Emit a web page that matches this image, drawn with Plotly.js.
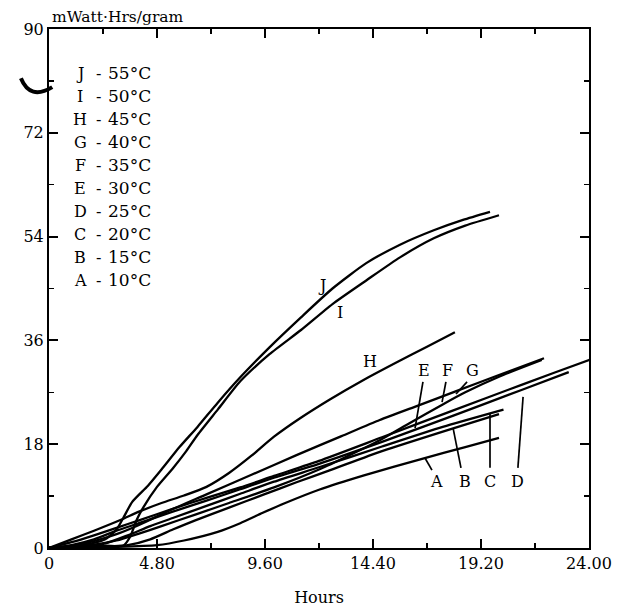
<!DOCTYPE html>
<html>
<head>
<meta charset="utf-8">
<script src="https://cdn.plot.ly/plotly-3.0.1.min.js"></script>
<style>html,body{margin:0;padding:0;background:#fff;}#chart{width:623px;height:609px;}</style>
</head>
<body>
<div id="chart"></div>
<script>
// ---- data (hours, mWatt·Hrs/gram) ----
const seriesNames = ["J", "I", "H", "G", "F", "E", "D", "C", "B", "A"];
const legendTemps = ["55°C", "50°C", "45°C", "40°C", "35°C", "30°C", "25°C", "20°C", "15°C", "10°C"];

const hoursJ = [0, 1.5, 2.5, 3.0, 3.3, 3.7, 4.4, 5.0, 5.8, 6.6, 7.5, 8.5, 9.8, 11.2, 12.6, 14.1, 15.6, 17.1, 18.4, 19.6];
const valuesJ = [0, 0.5, 1.5, 3.2, 5.2, 8.0, 10.8, 13.6, 17.5, 21.0, 25.2, 29.6, 34.8, 40.0, 45.0, 49.4, 52.6, 55.1, 56.9, 58.3];

const hoursI = [0, 1.5, 2.5, 3.3, 3.6, 3.9, 4.2, 4.8, 5.5, 6.1, 6.6, 7.5, 8.5, 9.8, 11.2, 12.6, 14.1, 15.6, 17.1, 18.5, 20.0];
const valuesI = [0, 0.2, 0.4, 0.4, 1.9, 4.9, 7.1, 10.6, 13.8, 16.8, 19.6, 24.0, 28.9, 33.6, 37.8, 42.3, 46.4, 50.4, 53.7, 55.9, 57.7];

const hoursH = [0, 1, 2, 3.2, 4.0, 5, 6, 7, 8, 9, 10, 11.16, 12.5, 13.96, 15.5, 16.8, 18.04];
const valuesH = [0, 1.5, 3.0, 4.9, 6.3, 7.8, 9.1, 10.6, 13.0, 16.0, 19.3, 22.5, 25.8, 29.1, 32.3, 34.9, 37.4];

const hoursG = [0, 1, 2, 3, 4, 5.4, 7, 9, 11, 13, 14.7, 16.4, 18.1, 20, 22];
const valuesG = [0, 0.4, 1.2, 2.4, 4.0, 6.6, 9.3, 12.7, 16.1, 19.4, 22.2, 24.7, 27.2, 30.0, 32.9];

const hoursF = [0, 1, 2, 3, 4, 5, 6.5, 8, 10, 12, 14.7, 16, 17.5, 18.5, 20, 21.9];
const valuesF = [0, 0.2, 0.6, 1.3, 2.5, 3.8, 5.8, 7.8, 10.5, 13.6, 18.7, 21.6, 24.9, 27.0, 29.7, 32.6];

const hoursE = [0, 1, 2, 3, 4, 5.5, 7, 8.5, 10, 12, 14.8, 18, 21, 24, 24.8];
const valuesE = [0, 1.0, 2.2, 3.5, 4.8, 6.8, 8.7, 10.5, 12.5, 15.1, 19.2, 23.9, 28.3, 32.6, 33.7];

const hoursD = [0, 1, 2, 3, 4, 5.5, 7, 8.5, 10, 12, 14.8, 18, 21, 23.1];
const valuesD = [0, 0.5, 1.5, 3.0, 4.3, 6.3, 8.2, 10.2, 12.2, 14.6, 18.4, 23.0, 27.4, 30.5];

const hoursC = [0, 1.5, 2.5, 3.5, 4.5, 5.5, 7, 8.5, 10, 12, 14.8, 17.5, 20.2];
const valuesC = [0, 0.3, 0.8, 2.2, 3.8, 5.2, 7.3, 9.4, 11.5, 14.0, 17.6, 21.0, 24.0];

const hoursB = [0, 2, 3.5, 4.5, 5.5, 6.5, 8, 9.5, 11, 12.5, 14.8, 18, 20];
const valuesB = [0, 0.2, 0.5, 1.5, 3.2, 4.8, 7.0, 9.2, 11.4, 13.5, 16.8, 20.8, 23.2];

const hoursA = [0, 1.5, 3, 4.8, 6, 7.5, 8.5, 9.5, 10.5, 12, 14, 16.7, 18.5, 20];
const valuesA = [0, 0.1, 0.2, 0.5, 1.3, 2.8, 4.3, 6.1, 7.8, 10.1, 12.6, 15.6, 17.5, 19.1];

const xTickVals = [0, 4.8, 9.6, 14.4, 19.2, 24];
const xTickText = ["0", "4.80", "9.60", "14.40", "19.20", "24.00"];
const yTickVals = [0, 18, 36, 54, 72, 90];
const yTickText = ["0", "18", "36", "54", "72", "90"];

// curve label positions (letter, hour, value)
const labelLetters = ["J", "I", "H", "E", "F", "G", "A", "B", "C", "D"];
const labelHours  = [12.13, 12.93, 14.27, 16.67, 17.69, 18.84, 17.24, 18.49, 19.6, 20.8];
const labelValues = [45.6, 40.9, 32.4, 30.8, 30.8, 30.8, 11.6, 11.6, 11.6, 11.6];

// ---- build ----
const allHours = {J: hoursJ, I: hoursI, H: hoursH, G: hoursG, F: hoursF, E: hoursE, D: hoursD, C: hoursC, B: hoursB, A: hoursA};
const allValues = {J: valuesJ, I: valuesI, H: valuesH, G: valuesG, F: valuesF, E: valuesE, D: valuesD, C: valuesC, B: valuesB, A: valuesA};

const FONT = "DejaVu Serif, Liberation Serif, serif";

const traces = seriesNames.map(n => ({
  type: "scatter", mode: "lines", name: n,
  x: allHours[n], y: allValues[n],
  line: {color: "#000", width: 2.3, shape: "spline", smoothing: 0.6},
  hoverinfo: "skip"
}));

const annotations = [];
// legend block: letter, dash, temperature in columns
seriesNames.forEach((n, i) => {
  const ys = -(44 + i * 23.0);
  annotations.push({
    xref: "paper", yref: "paper", x: 0, y: 1, xanchor: "center", yanchor: "middle",
    xshift: 31, yshift: ys, text: n, showarrow: false,
    font: {family: FONT, size: 16, color: "#000"}
  });
  annotations.push({
    xref: "paper", yref: "paper", x: 0, y: 1, xanchor: "center", yanchor: "middle",
    xshift: 49, yshift: ys, text: "-", showarrow: false,
    font: {family: FONT, size: 16, color: "#000"}
  });
  annotations.push({
    xref: "paper", yref: "paper", x: 0, y: 1, xanchor: "left", yanchor: "middle",
    xshift: 57, yshift: ys, text: legendTemps[i], showarrow: false,
    font: {family: FONT, size: 17, color: "#000"}
  });
});
// curve labels
labelLetters.forEach((l, i) => {
  annotations.push({
    xref: "x", yref: "y", x: labelHours[i], y: labelValues[i],
    text: l, showarrow: false, xanchor: "center", yanchor: "middle",
    font: {family: FONT, size: 16, color: "#000"}
  });
});
// y axis title on top
annotations.push({
  xref: "paper", yref: "paper", x: 0, y: 1, xanchor: "left", yanchor: "bottom",
  xshift: 1, yshift: 1, text: "mWatt·Hrs/gram", showarrow: false,
  font: {family: FONT, size: 15.5, color: "#000"}
});

// pointer lines from labels to curves
const ptrFromH = [16.62, 17.64, 18.58, 17.02, 18.31, 19.6, 20.84];
const ptrFromV = [28.8, 28.8, 28.8, 13.5, 13.9, 13.9, 13.9];
const ptrToH   = [16.27, 17.47, 18.09, 16.71, 17.96, 19.6, 21.07];
const ptrToV   = [20.8, 25.3, 26.7, 15.6, 20.8, 23.4, 26.2];
const shapes = ptrFromH.map((h, i) => ({
  type: "line", xref: "x", yref: "y", x0: h, y0: ptrFromV[i], x1: ptrToH[i], y1: ptrToV[i],
  line: {color: "#000", width: 1.7}
}));
// scan blemish at left edge of the original page
shapes.push({
  type: "path", xref: "paper", yref: "paper",
  path: "M -0.052 0.905 Q -0.035 0.862 0.006 0.888",
  line: {color: "#000", width: 4}
});

const axisCommon = {
  showline: true, linecolor: "#000", linewidth: 2, mirror: "ticks",
  ticks: "inside", ticklen: 9, tickwidth: 2, tickcolor: "#000",
  showgrid: false, zeroline: false,
  tickfont: {family: FONT, size: 16, color: "#000"},
  fixedrange: true
};

const layout = {
  width: 623, height: 609,
  margin: {l: 49, r: 34, t: 29, b: 61},
  paper_bgcolor: "#fff", plot_bgcolor: "#fff",
  showlegend: false,
  xaxis: Object.assign({}, axisCommon, {
    range: [0, 24], tickmode: "array", tickvals: xTickVals, ticktext: xTickText,
    minor: {tickmode: "linear", tick0: 0, dtick: 2.4, ticks: "inside", ticklen: 5, tickwidth: 1.5, tickcolor: "#000"},
    title: {text: "Hours", font: {family: FONT, size: 16, color: "#000"}, standoff: 20}
  }),
  yaxis: Object.assign({}, axisCommon, {
    range: [0, 90], tickmode: "array", tickvals: yTickVals, ticktext: yTickText,
    minor: {tickmode: "linear", tick0: 0, dtick: 9, ticks: "inside", ticklen: 5, tickwidth: 1.5, tickcolor: "#000"}
  }),
  annotations: annotations,
  shapes: shapes
};

Plotly.newPlot("chart", traces, layout, {displayModeBar: false, staticPlot: true});
</script>
</body>
</html>
